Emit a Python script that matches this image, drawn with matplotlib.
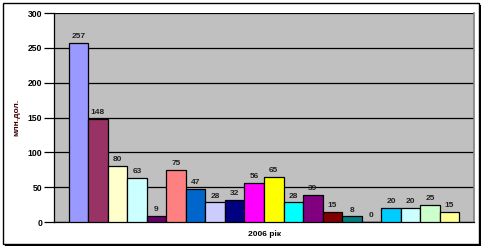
import matplotlib
matplotlib.use("Agg")
import matplotlib.pyplot as plt
from matplotlib.patches import Rectangle

values = [257, 148, 80, 63, 9, 75, 47, 28, 32, 56, 65, 28, 39, 15, 8, 0, 20, 20, 25, 15]
colors = ["#9999FF", "#993366", "#FFFFCC", "#CCFFFF", "#660066", "#FF8080",
          "#0066CC", "#CCCCFF", "#000080", "#FF00FF", "#FFFF00", "#00FFFF",
          "#800080", "#800000", "#008080", "#0000FF", "#00CCFF", "#CCFFFF",
          "#CCFFCC", "#FFFF99"]
yticks = [0, 50, 100, 150, 200, 250, 300]
xlabel = "2006 рік"
ylabel = "млн.дол."

plt.rcParams['font.family'] = ['Liberation Sans', 'DejaVu Sans']

fig = plt.figure(figsize=(4.85, 2.47), dpi=100)
ax = fig.add_axes([54/485, 25/247, 420/485, 209/247])
ax.set_facecolor("#C0C0C0")

x = list(range(len(values)))
ax.bar(x, values, width=1.0, color=colors, edgecolor="black", linewidth=0.9, zorder=3)
for xi, v in zip(x, values):
    ax.text(xi, v + 4, str(v), ha="center", va="bottom", fontsize=6,
            fontweight="bold", color="#222222", zorder=4)

ax.set_xlim(-1.25, len(values) + 0.25)
ax.set_ylim(0, 300)
ax.set_yticks(yticks)
ax.set_yticklabels([str(t) for t in yticks], fontsize=6.2, fontweight="bold")
ax.set_xticks([])
ax.yaxis.grid(True, color="black", linewidth=0.9, zorder=1)
ax.set_axisbelow(True)
ax.tick_params(axis="y", length=7.5, width=0.9, direction="out", pad=1)

ax.spines["top"].set_visible(False)
ax.spines["right"].set_color("#808080")
ax.spines["right"].set_linewidth(1.2)
ax.spines["left"].set_linewidth(0.9)
ax.spines["bottom"].set_linewidth(0.9)

ax.set_xlabel(xlabel, fontsize=6, fontweight="bold", labelpad=6)
ax.set_ylabel(ylabel, fontsize=6, fontweight="bold", color="#400000", labelpad=5)

# outer border with shadow
fig.patches.append(Rectangle((5/485, 1/247), 476/485, 241/247, transform=fig.transFigure,
                             facecolor="black", edgecolor="none", zorder=-2))
fig.patches.append(Rectangle((3/485, 3/247), 476/485, 241/247, transform=fig.transFigure,
                             facecolor="white", edgecolor="black", linewidth=1.0, zorder=-1))

fig.savefig("out.png", dpi=100)
